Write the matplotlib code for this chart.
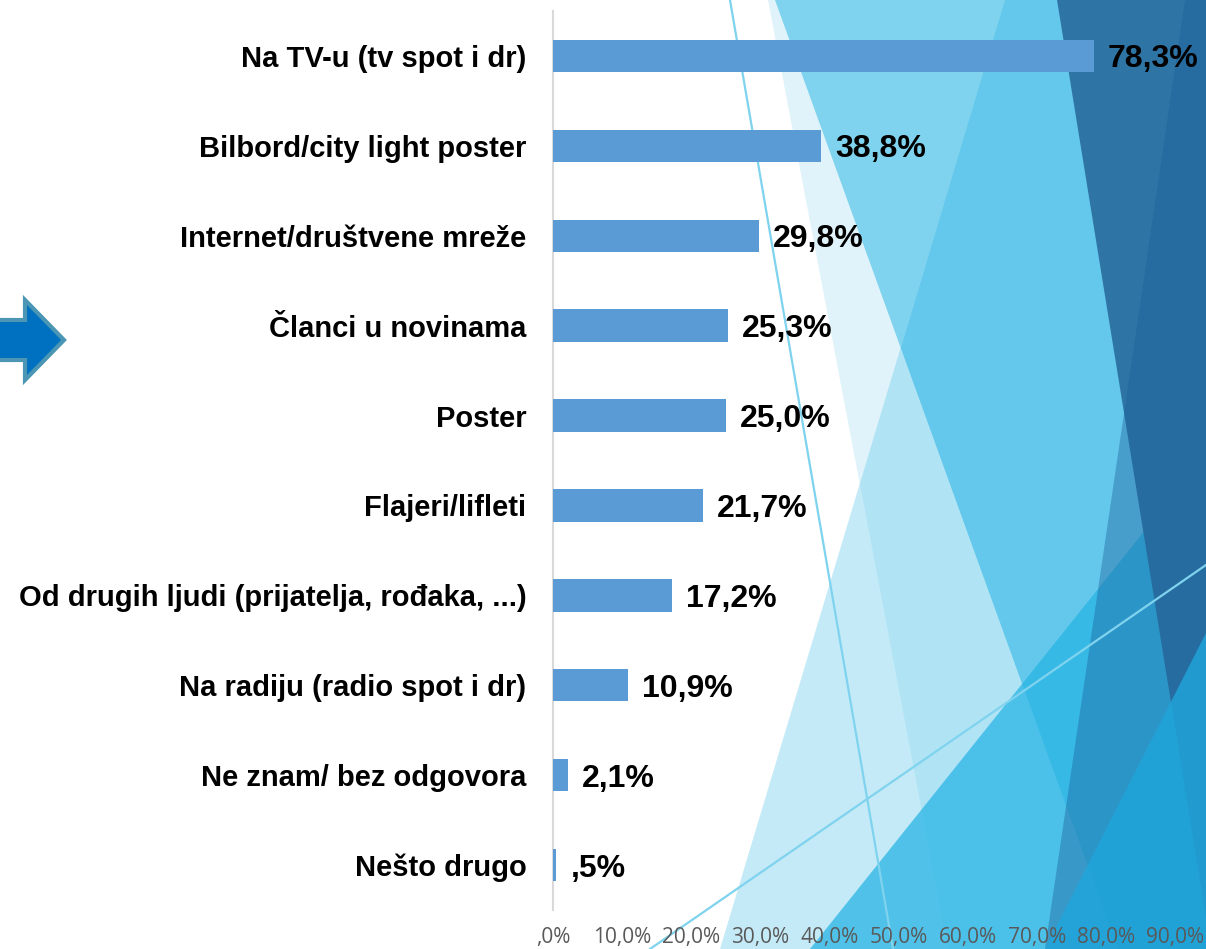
import matplotlib; matplotlib.use("Agg")
import matplotlib.pyplot as plt
from matplotlib.patches import Polygon
from matplotlib.lines import Line2D

categories = ["Na TV-u (tv spot i dr)", "Bilbord/city light poster", "Internet/društvene mreže",
              "Članci u novinama", "Poster", "Flajeri/lifleti",
              "Od drugih ljudi (prijatelja, rođaka, ...)", "Na radiju (radio spot i dr)",
              "Ne znam/ bez odgovora", "Nešto drugo"]
values = [78.3, 38.8, 29.8, 25.3, 25.0, 21.7, 17.2, 10.9, 2.1, 0.5]
xticks = [0, 10, 20, 30, 40, 50, 60, 70, 80, 90]

W, H = 1206, 949
fig = plt.figure(figsize=(W / 100, H / 100), dpi=100)
fig.patch.set_facecolor("white")

def px(pts):
    # pixel coords (y down) -> figure fraction
    return [(x / W, 1 - y / H) for x, y in pts]

def shape(pts, color, alpha=1.0):
    fig.add_artist(Polygon(px(pts), closed=True, facecolor=color, edgecolor="none",
                           alpha=alpha, transform=fig.transFigure, zorder=-5))

# background facets (theme decoration)
shape([(768, 0), (1206, 0), (1206, 949), (948, 949)], "#e0f3fa")
shape([(1005, 0), (1206, 0), (1206, 949), (720, 949)], "#c5eaf7")
shape([(860, 484), (1005, 0), (1206, 0), (1206, 949), (948, 949)], "#b0e4f5")
shape([(775, 0), (1206, 0), (1206, 949), (1118, 949)], "#7fd3ee")
shape([(901, 348), (1005, 0), (1206, 0), (1206, 949), (1118, 949)], "#64c8ec")
shape([(810, 949), (1206, 454), (1206, 949)], "#29b5e5", 0.75)
shape([(1057, 0), (1206, 0), (1206, 918)], "#2e75a6")
shape([(1185, 0), (1206, 0), (1206, 949), (1045, 949)], "#1c5f99", 0.4)
shape([(1045, 949), (1206, 633), (1206, 949)], "#1fa6dc", 0.8)
for a, b in [((730, 0), (893, 949)), ((650, 949), (1206, 565))]:
    (x0, y0), (x1, y1) = px([a, b])
    fig.add_artist(Line2D([x0, x1], [y0, y1], color="#7fd3ee", lw=1.6,
                          transform=fig.transFigure, zorder=-4))

# arrow on the left
fig.add_artist(Polygon(px([(-5, 320), (25, 320), (25, 300), (64, 340), (25, 380), (25, 360), (-5, 360)]),
                       closed=True, facecolor="#0070c0", edgecolor="#4a96b4", lw=3,
                       transform=fig.transFigure, zorder=-3))

ax = fig.add_axes([553 / W, 39 / H, 622 / W, 899 / H])
ax.patch.set_visible(False)
pos = list(range(len(categories)))
ax.barh(pos, values, height=0.36, color="#5b9bd5", zorder=3)
ax.set_ylim(len(categories) - 0.5, -0.5)
ax.set_xlim(0, 90)
ax.set_yticks(pos)
ax.set_yticklabels(categories, fontsize=21, fontweight="bold", family="Liberation Sans")
ax.set_xticks(xticks)
ax.set_xticklabels([f"{t:.1f}".replace(".", ",").lstrip("0") + "%" for t in xticks],
                   fontsize=15, color="#595959", family="Open Sans")
ax.tick_params(axis="y", length=0, pad=19)
ax.tick_params(axis="x", length=0, pad=12.5)
for s in ["top", "right", "bottom"]:
    ax.spines[s].set_visible(False)
ax.spines["left"].set_color("#d9d9d9")
ax.spines["left"].set_linewidth(1.5)

for p, v in zip(pos, values):
    lab = f"{v:.1f}".replace(".", ",").lstrip("0") + "%"
    ax.annotate(lab, (v, p), xytext=(10, 0), textcoords="offset points", va="center_baseline",
                ha="left", fontsize=23, fontweight="bold", family="Liberation Sans",
                color="black", annotation_clip=False, zorder=5)

plt.savefig("out.png", dpi=100)
